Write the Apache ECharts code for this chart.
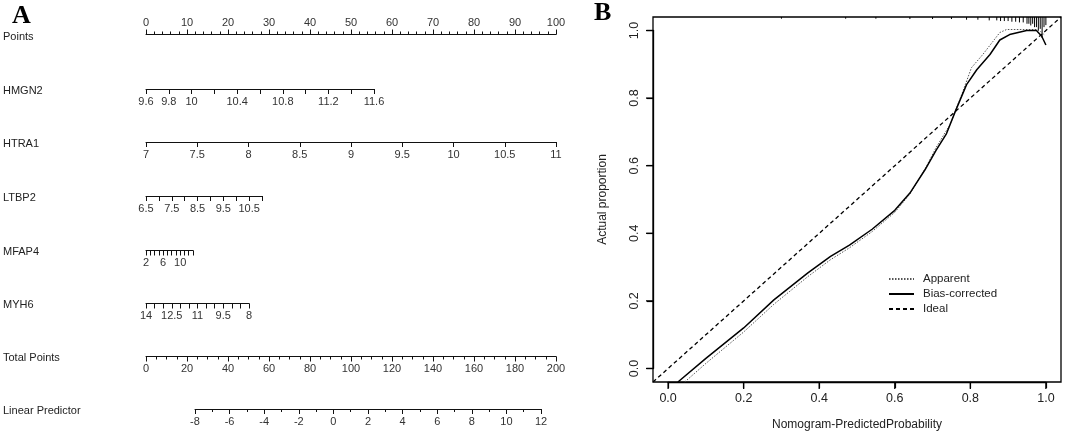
<!DOCTYPE html>
<html><head><meta charset="utf-8">
<script src="https://cdn.jsdelivr.net/npm/echarts@6/dist/echarts.min.js"></script>
<style>html,body{margin:0;padding:0;background:#fff}#c{width:1065px;height:442px}</style>
</head><body><div id="c"></div>
<script>
// ---------- data ----------
const rowNames = ['Points','HMGN2','HTRA1','LTBP2','MFAP4','MYH6','Total Points','Linear Predictor'];
const pointsLabels = [0,10,20,30,40,50,60,70,80,90,100];
const hmgn2Ticks = [9.6,9.8,10,10.2,10.4,10.6,10.8,11,11.2,11.4,11.6];
const hmgn2Labels = [9.6,9.8,10,10.4,10.8,11.2,11.6];
const htra1Ticks = [7,7.5,8,8.5,9,9.5,10,10.5,11];
const htra1Labels = [7,7.5,8,8.5,9,9.5,10,10.5,11];
const ltbp2Ticks = [6.5,7,7.5,8,8.5,9,9.5,10,10.5,11];
const ltbp2Labels = [6.5,7.5,8.5,9.5,10.5];
const mfap4Ticks = [2,3,4,5,6,7,8,9,10,11,12,13];
const mfap4Labels = [2,6,10];
const myh6Ticks = [14,13.5,13,12.5,12,11.5,11,10.5,10,9.5,9,8.5,8];
const myh6Labels = [14,12.5,11,9.5,8];
const totalLabels = [0,20,40,60,80,100,120,140,160,180,200];
const lpLabels = [-8,-6,-4,-2,0,2,4,6,8,10,12];

const calTicks = [0,0.2,0.4,0.6,0.8,1.0];
const apparent = [[0.044,-0.04],[0.1,0.015],[0.2,0.108],[0.28,0.19],[0.37,0.272],[0.43,0.322],[0.48,0.357],[0.54,0.405],[0.6,0.462],[0.64,0.516],[0.68,0.59],[0.71,0.655],[0.746,0.721],[0.777,0.81],[0.803,0.89],[0.833,0.929],[0.86,0.968],[0.878,0.994],[0.896,1.003],[0.939,1.003],[0.975,1.003],[0.989,0.995],[0.997,0.985]];
const biasCorrected = [[0.026,-0.04],[0.1,0.03],[0.2,0.12],[0.28,0.203],[0.37,0.283],[0.43,0.332],[0.48,0.365],[0.54,0.412],[0.6,0.468],[0.64,0.519],[0.68,0.588],[0.71,0.647],[0.737,0.695],[0.76,0.76],[0.79,0.84],[0.817,0.884],[0.852,0.929],[0.878,0.972],[0.904,0.988],[0.949,1.0],[0.975,1.0],[0.989,0.983],[1.0,0.957]];
const ideal = [[-0.04,-0.04],[1.04,1.04]];
const rugX = [0.30,0.47,0.55,0.64,0.70,0.75,0.79,0.82,0.85,0.87,0.88,0.89,0.90,0.91,0.92,0.93,0.94,0.95,0.955,0.96,0.965,0.97,0.975,0.98,0.985,0.99,0.995,1.0];
const rugLen = [0.005,0.005,0.005,0.006,0.006,0.006,0.008,0.008,0.01,0.01,0.012,0.012,0.012,0.014,0.014,0.016,0.016,0.02,0.02,0.025,0.02,0.03,0.03,0.04,0.035,0.062,0.03,0.024];

// ---------- layout ----------
const FONT = 'Liberation Sans, Arial, sans-serif';
const rows = [
  {y:34.5, x1:146, x2:556, min:0, max:100, top:true, interval:10, minorSplit:5},
  {y:89, x1:146, x2:374, min:9.6, max:11.6, ticks:hmgn2Ticks, labels:hmgn2Labels},
  {y:142, x1:146, x2:556, min:7, max:11, ticks:htra1Ticks, labels:htra1Labels},
  {y:196, x1:146, x2:262, min:6.5, max:11, ticks:ltbp2Ticks, labels:ltbp2Labels},
  {y:250.5, x1:146, x2:193, min:2, max:13, ticks:mfap4Ticks, labels:mfap4Labels},
  {y:303.5, x1:146, x2:249, min:8, max:14, ticks:myh6Ticks, labels:myh6Labels, inverse:true},
  {y:356.5, x1:146, x2:556, min:0, max:200, interval:20, minorSplit:4},
  {y:409, x1:195, x2:541, min:-8, max:12, interval:2, minorSplit:2}
];

const grids = [], xAxes = [], yAxes = [], graphics = [];
rows.forEach((r, i) => {
  grids.push({left:r.x1, width:r.x2 - r.x1, top: r.top ? r.y : r.y - 1, height:1, outerBoundsMode:'none', containLabel:false});
  const ax = {
    type:'value', gridIndex:i, min:r.min, max:r.max, position: r.top ? 'top' : 'bottom',
    inverse: !!r.inverse,
    axisLine:{show:true, onZero:false, lineStyle:{color:'#111', width:1}},
    splitLine:{show:false},
    axisTick:{show:true, length:5, lineStyle:{color:'#111', width:1}},
    axisLabel:{show:true, margin: r.top ? 6 : 7, fontSize:11, color:'#333', fontFamily:FONT, showMinLabel:true, showMaxLabel:true, hideOverlap:false}
  };
  if (r.interval) {
    ax.interval = r.interval;
    ax.minorTick = {show:true, splitNumber:r.minorSplit, length:3, lineStyle:{color:'#111', width:1}};
  } else {
    ax.axisTick.customValues = r.ticks;
    ax.axisLabel.customValues = r.labels;
  }
  xAxes.push(ax);
  yAxes.push({type:'value', gridIndex:i, show:false});
  graphics.push({id:'row' + i, type:'text', left:3, top:r.y - 4 + (i===0?1:0), style:{text:rowNames[i], font:'11px ' + FONT, fill:'#222'}});
});
xAxes[0].axisLabel.customValues = pointsLabels;
xAxes[6].axisLabel.customValues = totalLabels;
xAxes[7].axisLabel.customValues = lpLabels;

// calibration panel: plot region [-0.04, 1.04] on both axes
const G = 8, BL = 653, BT = 17, BW = 408, BH = 365;
const ux = BW / 1.08, uy = BH / 1.08;
grids.push({left:BL, top:BT, width:BW, height:BH, show:true, borderColor:'#000', borderWidth:1.3, backgroundColor:'transparent', outerBoundsMode:'none', containLabel:false});
xAxes.push({
  type:'value', gridIndex:G, min:-0.04, max:1.04, position:'bottom',
  name:'Nomogram-PredictedProbability', nameLocation:'middle', nameGap:37,
  nameTextStyle:{fontSize:12, color:'#222', fontFamily:FONT},
  axisLine:{show:false, onZero:false}, axisTick:{show:false}, axisLabel:{show:false}, splitLine:{show:false}
});
yAxes.push({
  type:'value', gridIndex:G, min:-0.04, max:1.04, position:'left',
  name:'Actual proportion', nameLocation:'middle', nameGap:44,
  nameTextStyle:{fontSize:12, color:'#222', fontFamily:FONT},
  axisLine:{show:false, onZero:false}, axisTick:{show:false}, axisLabel:{show:false}, splitLine:{show:false}
});
// x label strip (R draws its axis over 0..1 only)
grids.push({left:BL + 0.04 * ux, width:ux, top:BT + BH - 1, height:1, outerBoundsMode:'none', containLabel:false});
xAxes.push({
  type:'value', gridIndex:9, min:0, max:1, position:'bottom',
  axisLine:{show:true, onZero:false, lineStyle:{color:'#000', width:1.3}}, splitLine:{show:false},
  axisTick:{show:true, length:6, customValues:calTicks, lineStyle:{color:'#000', width:1.2}},
  axisLabel:{customValues:calTicks, margin:10, fontSize:12.5, color:'#222', fontFamily:FONT, formatter:v => v.toFixed(1)}
});
yAxes.push({type:'value', gridIndex:9, show:false});
// y label strip
grids.push({left:BL, width:1, top:BT + 0.04 * uy, height:uy, outerBoundsMode:'none', containLabel:false});
xAxes.push({type:'value', gridIndex:10, show:false});
yAxes.push({
  type:'value', gridIndex:10, min:0, max:1, position:'left',
  axisLine:{show:true, onZero:false, lineStyle:{color:'#000', width:1.3}}, splitLine:{show:false},
  axisTick:{show:true, length:6, customValues:calTicks, lineStyle:{color:'#000', width:1.2}},
  axisLabel:{customValues:calTicks, rotate:90, margin:12, fontSize:12.5, color:'#222', fontFamily:FONT, formatter:v => v.toFixed(1)}
});

graphics.push({id:'lblA', type:'text', left:12, top:3, style:{text:'A', font:'bold 26px Liberation Serif, Times New Roman, serif', fill:'#000'}});
graphics.push({id:'lblB', type:'text', left:594, top:0, style:{text:'B', font:'bold 26px Liberation Serif, Times New Roman, serif', fill:'#000'}});

const rugData = rugX.map((x, i) => [x, rugLen[i]]);

const option = {
  animation:false,
  backgroundColor:'#fff',
  grid:grids, xAxis:xAxes, yAxis:yAxes,
  graphic:{elements:graphics},
  legend:{
    data:['Apparent','Bias-corrected','Ideal'],
    orient:'vertical', left:883, top:268, itemWidth:25, itemHeight:10, itemGap:3,
    itemStyle:{opacity:0, borderWidth:0},
    textStyle:{fontSize:11.5, color:'#222', fontFamily:FONT, padding:[0,0,0,4]},
    inactiveColor:'#ccc'
  },
  series:[
    {name:'Apparent', type:'line', xAxisIndex:G, yAxisIndex:G, data:apparent, symbol:'none', smooth:false,
     lineStyle:{color:'#555', width:1, type:[1.5,1.5]}, itemStyle:{color:'#555'}},
    {name:'Bias-corrected', type:'line', xAxisIndex:G, yAxisIndex:G, data:biasCorrected, symbol:'none',
     lineStyle:{color:'#000', width:1.5, type:'solid'}, itemStyle:{color:'#000'}},
    {name:'Ideal', type:'line', xAxisIndex:G, yAxisIndex:G, data:ideal, symbol:'none',
     lineStyle:{color:'#000', width:1.3, type:[4,3]}, itemStyle:{color:'#000'}},
    {name:'rug', type:'custom', xAxisIndex:G, yAxisIndex:G, data:rugData, clip:true,
     renderItem:(params, api) => {
       const x = api.value(0), len = api.value(1);
       const p1 = api.coord([x, 1.04]);
       const p2 = api.coord([x, 1.04 - len]);
       return {type:'line', shape:{x1:p1[0], y1:p1[1], x2:p2[0], y2:p2[1]}, style:{stroke:'#000', lineWidth:1}};
     }}
  ]
};
const chart = echarts.init(document.getElementById('c'), null, {renderer:'canvas'});
chart.setOption(option);

// outward tick marks of panel B, positioned through the panel's own scales
const tickEls = [];
calTicks.forEach((v, i) => {
  const px = chart.convertToPixel({xAxisIndex:G, yAxisIndex:G}, [v, -0.04]);
  const py = chart.convertToPixel({xAxisIndex:G, yAxisIndex:G}, [-0.04, v]);
  tickEls.push({id:'tx' + i, type:'line', z:100, shape:{x1:px[0], y1:px[1], x2:px[0], y2:px[1] + 7}, style:{stroke:'#000', lineWidth:1.3}});
  tickEls.push({id:'ty' + i, type:'line', z:100, shape:{x1:py[0] - 7, y1:py[1], x2:py[0], y2:py[1]}, style:{stroke:'#000', lineWidth:1.3}});
});
chart.setOption({graphic:{elements:graphics.concat(tickEls)}});
</script></body></html>
